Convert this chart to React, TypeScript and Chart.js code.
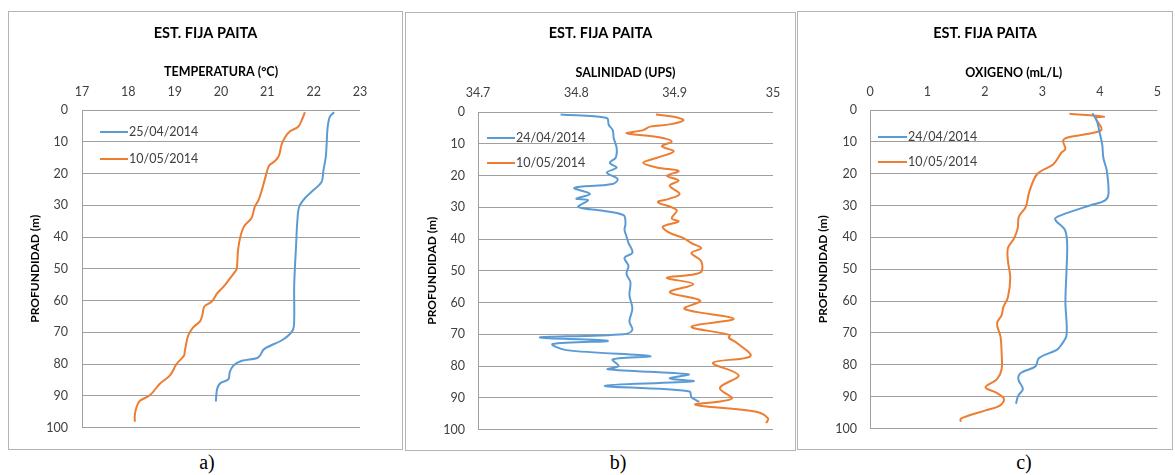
import React, { useEffect, useRef } from "react";
import { Chart, registerables } from "chart.js";

Chart.register(...registerables);

const BLUE = "#5B9BD5";
const ORANGE = "#ED7D31";
const TITLE = "EST. FIJA PAITA";
const Y_TITLE = "PROFUNDIDAD (m)";

const DEPTH_TICKS = [0, 10, 20, 30, 40, 50, 60, 70, 80, 90, 100];
const TEMP_TICKS = [17, 18, 19, 20, 21, 22, 23];
const SAL_TICKS = [34.7, 34.8, 34.9, 35];
const OXY_TICKS = [0, 1, 2, 3, 4, 5];

// ---- a) Temperatura ----
const tempDepthA = [0.7, 2.1, 5.7, 10.8, 14.9, 19.1, 22.7, 25.3, 27.8, 30.4, 34.5, 42.8, 55.2, 65.5, 69.3, 72.2, 75.3, 77.4, 78.2, 79, 80.5, 82.5, 84.8, 86.1, 87.7, 89.5, 91.8];
const tempValA = [22.44, 22.35, 22.3, 22.28, 22.26, 22.21, 22.17, 21.99, 21.81, 21.69, 21.65, 21.62, 21.58, 21.58, 21.55, 21.35, 20.93, 20.84, 20.77, 20.45, 20.27, 20.19, 20.16, 19.98, 19.92, 19.9, 19.89];
const tempDepthB = [0.7, 2.6, 5.2, 6.7, 8.2, 10.8, 14.4, 16, 17.5, 20.6, 25.3, 28.4, 30.4, 34, 36.6, 39.2, 43.8, 50, 51, 53.1, 55.7, 57.7, 60.3, 61.9, 64.4, 66.5, 68.6, 71.1, 75.8, 77.4, 80, 83.6, 86.2, 89.8, 91.6, 93.4, 96, 98.2];
const tempValB = [21.81, 21.76, 21.67, 21.49, 21.4, 21.31, 21.25, 21.17, 21.04, 20.97, 20.88, 20.81, 20.73, 20.66, 20.5, 20.43, 20.37, 20.34, 20.3, 20.19, 20.05, 19.92, 19.8, 19.64, 19.6, 19.55, 19.39, 19.29, 19.22, 19.2, 19.04, 18.9, 18.68, 18.47, 18.25, 18.18, 18.14, 18.14];

// ---- b) Salinidad ----
const salDepthA = [0.8, 1.9, 4.1, 5.7, 8.2, 11.3, 14.4, 16, 17.5, 19.1, 21.1, 22.7, 23.9, 25.8, 27.3, 27.8, 29.9, 31.1, 32.5, 35.1, 37.1, 39.2, 41.2, 44.3, 45.9, 48.5, 51, 53.6, 57.7, 61.9, 66, 68.6, 70, 71, 72.1, 73.1, 75, 76.9, 77.9, 80, 81, 82.6, 83.9, 84.8, 86.2, 88, 89.8, 90.8, 91.3];
const salValA = [34.784, 34.831, 34.833, 34.837, 34.838, 34.841, 34.84, 34.834, 34.841, 34.831, 34.842, 34.837, 34.798, 34.814, 34.8, 34.812, 34.802, 34.827, 34.848, 34.85, 34.849, 34.851, 34.853, 34.857, 34.849, 34.853, 34.851, 34.855, 34.854, 34.857, 34.854, 34.857, 34.848, 34.763, 34.832, 34.776, 34.79, 34.875, 34.837, 34.843, 34.832, 34.914, 34.895, 34.919, 34.829, 34.915, 34.917, 34.922, 34.925];
const salDepthB = [0.8, 1.5, 2.6, 3.9, 4.6, 5.7, 6.7, 7.4, 8.2, 9.3, 10.8, 12.4, 14.4, 16, 17.5, 18.6, 20.1, 21.6, 23.2, 25.8, 27.3, 28.4, 30.9, 33.5, 34.5, 36.1, 38.1, 39.7, 41.3, 42.9, 44.4, 47, 50.6, 52.2, 54.2, 56.8, 59.4, 62, 65.1, 67.6, 70.2, 71.1, 72.7, 76.9, 79, 82.9, 86.9, 90.3, 92.2, 94.4, 96.5, 98];
const salValB = [34.881, 34.899, 34.909, 34.895, 34.875, 34.868, 34.851, 34.871, 34.888, 34.897, 34.887, 34.899, 34.882, 34.868, 34.882, 34.904, 34.892, 34.904, 34.895, 34.905, 34.895, 34.883, 34.902, 34.897, 34.904, 34.888, 34.895, 34.909, 34.917, 34.927, 34.917, 34.927, 34.926, 34.892, 34.919, 34.895, 34.926, 34.91, 34.96, 34.917, 34.956, 34.955, 34.963, 34.977, 34.939, 34.965, 34.946, 34.958, 34.921, 34.983, 34.995, 34.993];

// ---- c) Oxigeno ----
const oxyDepthA = [1, 3.6, 6.7, 10.8, 15, 19.1, 26.3, 28.4, 29.9, 33, 34.3, 37.6, 41.8, 50, 60.3, 70.6, 73.7, 75.3, 77.9, 80.5, 82.5, 84.5, 87.6, 89.7, 92.2];
const oxyValA = [3.87, 3.95, 3.99, 4.04, 4.06, 4.12, 4.15, 4.09, 3.84, 3.33, 3.22, 3.39, 3.43, 3.42, 3.4, 3.42, 3.33, 3.25, 2.94, 2.88, 2.63, 2.58, 2.66, 2.58, 2.54];
const oxyDepthB = [1.2, 2.1, 2.5, 4.2, 6, 7, 8.5, 9.6, 12.2, 13.4, 17, 20.1, 25.8, 30.4, 33.5, 37.1, 40.2, 43.3, 47.4, 52.6, 58.8, 61.9, 64.4, 67, 71.1, 76.3, 81.4, 84.5, 87.1, 88.6, 90.7, 92.8, 94.3, 96.9, 97.9];
const oxyValB = [3.47, 4.07, 3.93, 3.98, 4.03, 3.93, 3.47, 3.36, 3.4, 3.33, 3.19, 2.91, 2.77, 2.71, 2.59, 2.57, 2.51, 2.4, 2.4, 2.44, 2.4, 2.32, 2.29, 2.21, 2.27, 2.29, 2.29, 2.21, 2.01, 2.18, 2.33, 2.26, 2.01, 1.58, 1.58];

type Spec = {
  key: string;
  box: { left: number; top: number; width: number; height: number };
  xTitle: string;
  xTicks: number[];
  labels: [string, string];
  series: [number[], number[], number[], number[]];
  chartLeft: number;
  chartTop: number;
  padRight: number;
  padBottom: number;
  titleY: number;
  axisTitleY: number;
  xTickPad: number;
  yTickPad: number;
  yTitleX: number;
  legendX: [number, number];
  legendY: [number, number];
  letter: string;
  letterX: number;
};

const SPECS: Spec[] = [
  {
    key: "a",
    box: { left: 8, top: 11, width: 395, height: 439 },
    xTitle: "TEMPERATURA (°C)",
    xTicks: TEMP_TICKS,
    labels: ["25/04/2014", "10/05/2014"],
    series: [tempDepthA, tempValA, tempDepthB, tempValB],
    chartLeft: 73, chartTop: 98, padRight: 42, padBottom: 16,
    titleY: 21, axisTitleY: 60, xTickPad: 10.5, yTickPad: 14, yTitleX: 26,
    legendX: [18, 46], legendY: [22, 49],
    letter: "a)", letterX: 207,
  },
  {
    key: "b",
    box: { left: 405, top: 12, width: 391, height: 439 },
    xTitle: "SALINIDAD (UPS)",
    xTicks: SAL_TICKS,
    labels: ["24/04/2014", "10/05/2014"],
    series: [salDepthA, salValA, salDepthB, salValB],
    chartLeft: 72, chartTop: 99, padRight: 22, padBottom: 15,
    titleY: 20.3, axisTitleY: 59.7, xTickPad: 11.5, yTickPad: 13, yTitleX: 26,
    legendX: [9, 37], legendY: [26, 51],
    letter: "b)", letterX: 618,
  },
  {
    key: "c",
    box: { left: 797, top: 11, width: 376, height: 439 },
    xTitle: "OXIGENO (mL/L)",
    xTicks: OXY_TICKS,
    labels: ["24/04/2014", "10/05/2014"],
    series: [oxyDepthA, oxyValA, oxyDepthB, oxyValB],
    chartLeft: 72, chartTop: 98, padRight: 7, padBottom: 16,
    titleY: 21.3, axisTitleY: 60.7, xTickPad: 11, yTickPad: 13, yTitleX: 25,
    legendX: [8, 37], legendY: [27, 52],
    letter: "c)", letterX: 1024,
  },
];

const FONT = "Lato";
const GRID = "#a0a0a0";
const TICK_COLOR = "#404040";

const overlayPlugin = {
  id: "overlay",
  afterDraw(chart: any, _args: any, opts: any) {
    const { ctx, chartArea, width } = chart;
    ctx.save();
    ctx.font = `bold 14.5px ${FONT}`;
    ctx.fillStyle = "#000";
    ctx.textAlign = "center";
    ctx.textBaseline = "middle";
    ctx.fillText(opts.title, width / 2, opts.titleY);
    chart.data.datasets.forEach((ds: any, i: number) => {
      const y = chartArea.top + opts.legendY[i];
      const x1 = chartArea.left + opts.legendX[0];
      const x2 = chartArea.left + opts.legendX[1];
      ctx.strokeStyle = ds.borderColor;
      ctx.lineWidth = 2;
      ctx.beginPath();
      ctx.moveTo(x1, y);
      ctx.lineTo(x2, y);
      ctx.stroke();
      ctx.font = `12.5px ${FONT}`;
      ctx.fillStyle = TICK_COLOR;
      ctx.textAlign = "left";
      ctx.fillText(ds.label, x2 + 1, y);
    });
    ctx.restore();
  },
};

function Panel({ spec }: { spec: Spec }) {
  const ref = useRef<HTMLCanvasElement>(null);
  const w = spec.box.width - 2;
  const h = spec.box.height - 2;
  useEffect(() => {
    const [dA, vA, dB, vB] = spec.series;
    const chart = new Chart(ref.current as HTMLCanvasElement, {
      type: "scatter",
      data: {
        datasets: [
          {
            label: spec.labels[0],
            data: dA.map((d, i) => ({ x: vA[i], y: d })),
            showLine: true,
            borderColor: BLUE,
            backgroundColor: BLUE,
            borderWidth: 2,
            pointRadius: 0,
            tension: 0.35,
          },
          {
            label: spec.labels[1],
            data: dB.map((d, i) => ({ x: vB[i], y: d })),
            showLine: true,
            borderColor: ORANGE,
            backgroundColor: ORANGE,
            borderWidth: 2,
            pointRadius: 0,
            tension: 0.35,
          },
        ],
      },
      options: {
        animation: false,
        responsive: false,
        maintainAspectRatio: false,
        devicePixelRatio: 1,
        layout: { padding: { left: 0, top: 0, right: spec.padRight, bottom: spec.padBottom } },
        plugins: {
          legend: { display: false },
          tooltip: { enabled: false },
          title: { display: false },
          overlay: {
            title: TITLE,
            titleY: spec.titleY,
            legendX: spec.legendX,
            legendY: spec.legendY,
          },
        } as any,
        scales: {
          x: {
            type: "linear",
            position: "top",
            min: spec.xTicks[0],
            max: spec.xTicks[spec.xTicks.length - 1],
            afterBuildTicks: (s: any) => {
              s.ticks = spec.xTicks.map((v) => ({ value: v }));
            },
            afterFit: (s: any) => {
              s.height = spec.chartTop;
            },
            ticks: {
              padding: spec.xTickPad,
              color: TICK_COLOR,
              font: { family: FONT, size: 12.5 },
              maxRotation: 0,
              autoSkip: false,
              callback: (v: any) => String(Math.round(Number(v) * 1000) / 1000),
            },
            grid: { display: false, drawTicks: false },
            border: { display: false },
            title: {
              display: true,
              text: spec.xTitle,
              color: "#000",
              font: { family: FONT, size: 12.5, weight: "bold" },
              padding: { top: spec.axisTitleY - 7.5, bottom: 0 },
            },
          },
          y: {
            type: "linear",
            reverse: true,
            min: 0,
            max: 100,
            afterBuildTicks: (s: any) => {
              s.ticks = DEPTH_TICKS.map((v) => ({ value: v }));
            },
            afterFit: (s: any) => {
              s.width = spec.chartLeft;
            },
            ticks: {
              padding: spec.yTickPad,
              color: TICK_COLOR,
              font: { family: FONT, size: 12.5 },
            },
            grid: { color: GRID, lineWidth: 1, drawTicks: false },
            border: { display: true, color: GRID, width: 1 },
            title: {
              display: true,
              text: Y_TITLE,
              color: "#000",
              font: { family: FONT, size: 12, weight: "bold" },
              padding: { top: spec.yTitleX - 7.2, bottom: 0 },
            },
          },
        },
      } as any,
      plugins: [overlayPlugin],
    });
    return () => chart.destroy();
  }, []);
  return (
    <div
      style={{
        position: "absolute",
        left: spec.box.left,
        top: spec.box.top,
        width: spec.box.width,
        height: spec.box.height,
        border: "1px solid #b4b4b4",
        boxSizing: "border-box",
        background: "#fff",
      }}
    >
      <canvas ref={ref} width={w} height={h} style={{ display: "block", width: w, height: h }} />
    </div>
  );
}

export default function App() {
  return (
    <div>
      {SPECS.map((s) => (
        <Panel key={s.key} spec={s} />
      ))}
      {SPECS.map((s) => (
        <div
          key={"l" + s.key}
          style={{
            position: "absolute",
            left: s.letterX - 30,
            top: 450,
            width: 60,
            textAlign: "center",
            fontFamily: "'Liberation Serif', 'Times New Roman', serif",
            fontSize: 20,
            lineHeight: "24px",
            color: "#000",
          }}
        >
          {s.letter}
        </div>
      ))}
    </div>
  );
}
